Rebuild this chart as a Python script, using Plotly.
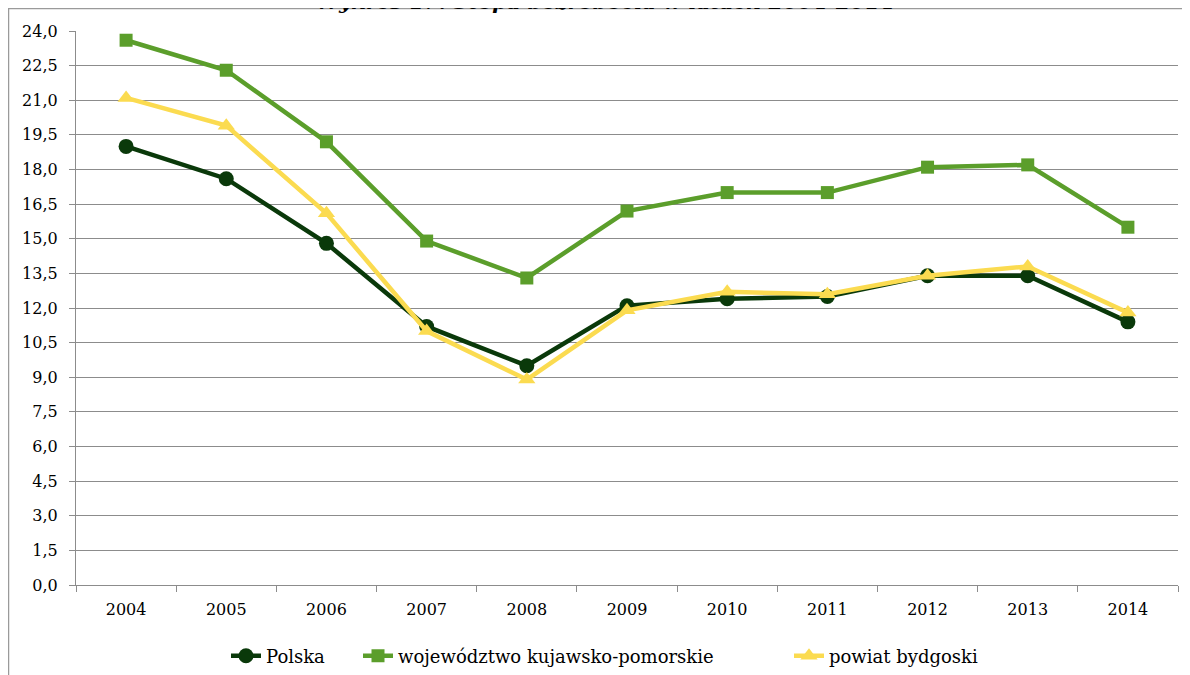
import plotly.graph_objects as go

years = ["2004", "2005", "2006", "2007", "2008", "2009", "2010", "2011", "2012", "2013", "2014"]
polska = [19.0, 17.6, 14.8, 11.2, 9.5, 12.1, 12.4, 12.5, 13.4, 13.4, 11.4]
kujawsko = [23.6, 22.3, 19.2, 14.9, 13.3, 16.2, 17.0, 17.0, 18.1, 18.2, 15.5]
bydgoski = [21.1, 19.9, 16.1, 11.0, 8.9, 11.9, 12.7, 12.6, 13.4, 13.8, 11.8]
y_ticks = [i * 1.5 for i in range(17)]
y_labels = [f"{v:.1f}".replace(".", ",") for v in y_ticks]

# figure is placed at an 8px page offset by the browser's default body margin
W, H = 1190, 675
L, R, T, B = 68, 20, 23, 98
pw, ph = W - L - R, H - T - B
FONT = "DejaVu Serif"

fig = go.Figure()
fig.add_trace(go.Scatter(x=years, y=polska, name="Polska", mode="lines+markers",
                         line=dict(color="#0a390a", width=4.5), legend="legend",
                         marker=dict(symbol="circle", size=15, color="#0a390a")))
fig.add_trace(go.Scatter(x=years, y=kujawsko, name="województwo kujawsko-pomorskie", mode="lines+markers",
                         line=dict(color="#5b9e2b", width=4.5), legend="legend2",
                         marker=dict(symbol="square", size=13, color="#5b9e2b")))
fig.add_trace(go.Scatter(x=years, y=bydgoski, name="powiat bydgoski", mode="lines+markers",
                         line=dict(color="#fbdb50", width=4.5), legend="legend3",
                         marker=dict(symbol="triangle-up", size=15, color="#fbdb50")))

def fx(p):
    return (p - L) / pw

def fy(p):
    return (H - B - p) / ph

fig.add_shape(type="rect", xref="paper", yref="paper",
              x0=fx(0.5), x1=fx(1230), y0=fy(720), y1=fy(0.5),
              line=dict(color="#9a9a9a", width=1.5), fillcolor="rgba(0,0,0,0)", layer="below")

fig.add_annotation(text="<b><i>Wykres 17. Stopa bezrobocia w latach 2004-2014</i></b>",
                   xref="paper", yref="paper", x=fx(597), y=fy(8),
                   xanchor="center", yanchor="bottom", showarrow=False,
                   font=dict(family=FONT, size=21, color="#000"))

def leg(xpx):
    return dict(orientation="h", x=xpx / W, xanchor="left", xref="container",
                y=1 - 648 / H, yanchor="middle", yref="container",
                font=dict(family=FONT, size=18, color="#000"), bgcolor="rgba(0,0,0,0)")

fig.update_layout(
    width=W, height=H,
    margin=dict(l=L, r=R, t=T, b=B, autoexpand=False),
    paper_bgcolor="white", plot_bgcolor="white",
    font=dict(family=FONT, size=16, color="#000"),
    showlegend=True,
    legend=leg(218), legend2=leg(350), legend3=leg(781),
    xaxis=dict(type="category", showgrid=False, showline=True, linecolor="#8c8c8c", linewidth=1.2,
               ticks="outside", ticklen=6, tickcolor="#8c8c8c", tickson="boundaries",
               ticklabelstandoff=10,
               tickfont=dict(family=FONT, size=16), range=[-0.5, 10.5], automargin=False),
    yaxis=dict(range=[0, 24], tickvals=y_ticks, ticktext=y_labels, showgrid=True,
               gridcolor="#8c8c8c", gridwidth=1, showline=True, linecolor="#8c8c8c", linewidth=1.2,
               ticks="outside", ticklen=6, tickcolor="#8c8c8c", zeroline=False,
               ticklabelstandoff=8,
               tickfont=dict(family=FONT, size=16), automargin=False),
)

fig.write_html("out.html")
